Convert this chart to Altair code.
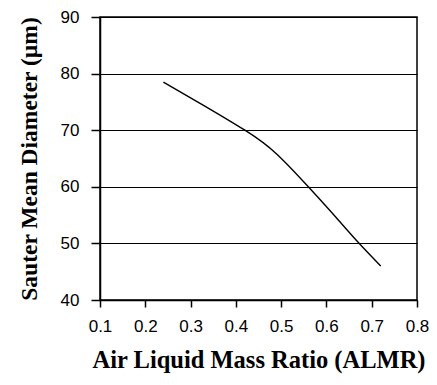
import altair as alt
import pandas as pd

almr = [0.24, 0.32, 0.42, 0.49, 0.56, 0.62, 0.67, 0.72]
smd = [78.5, 74.8, 70.0, 65.8, 60.0, 54.7, 50.2, 46.0]

df = pd.DataFrame({"ALMR": almr, "SMD": smd})

x_ticks = [0.1, 0.2, 0.3, 0.4, 0.5, 0.6, 0.7, 0.8]
y_ticks = [40, 50, 60, 70, 80, 90]

chart = alt.Chart(df).mark_line(color="black", strokeWidth=1.4, interpolate="natural").encode(
    x=alt.X("ALMR:Q", scale=alt.Scale(domain=[0.1, 0.8], nice=False, zero=False),
            axis=alt.Axis(title="Air Liquid Mass Ratio (ALMR)", values=x_ticks, format=".1f",
                          grid=False, tickSize=7, labelPadding=11, titlePadding=14,
                          labelFont="Liberation Sans", labelFontSize=17, labelColor="black",
                          titleFont="Liberation Serif", titleFontSize=24.5, titleFontWeight="bold",
                          titleColor="black", domainColor="black", domainWidth=1.5,
                          tickColor="black", tickWidth=1.5, labelFlush=False)),
    y=alt.Y("SMD:Q", scale=alt.Scale(domain=[40, 90], nice=False, zero=False),
            axis=alt.Axis(title="Sauter Mean Diameter (µm)", values=y_ticks,
                          grid=True, gridColor="black", gridWidth=1.2, gridOpacity=1,
                          tickSize=9, labelPadding=12, titlePadding=19,
                          labelFont="Liberation Sans", labelFontSize=17, labelColor="black",
                          titleFont="Liberation Serif", titleFontSize=23.5, titleFontWeight="bold",
                          titleColor="black", domainColor="black", domainWidth=1.5,
                          tickColor="black", tickWidth=1.5)),
).properties(
    width=317, height=283,
    autosize=alt.AutoSizeParams(type="none"),
    padding={"left": 92, "top": 9, "right": 12, "bottom": 77},
).configure_view(stroke="black", strokeWidth=1.5)

chart.save("out.html", embed_options={"renderer": "svg", "actions": False})
